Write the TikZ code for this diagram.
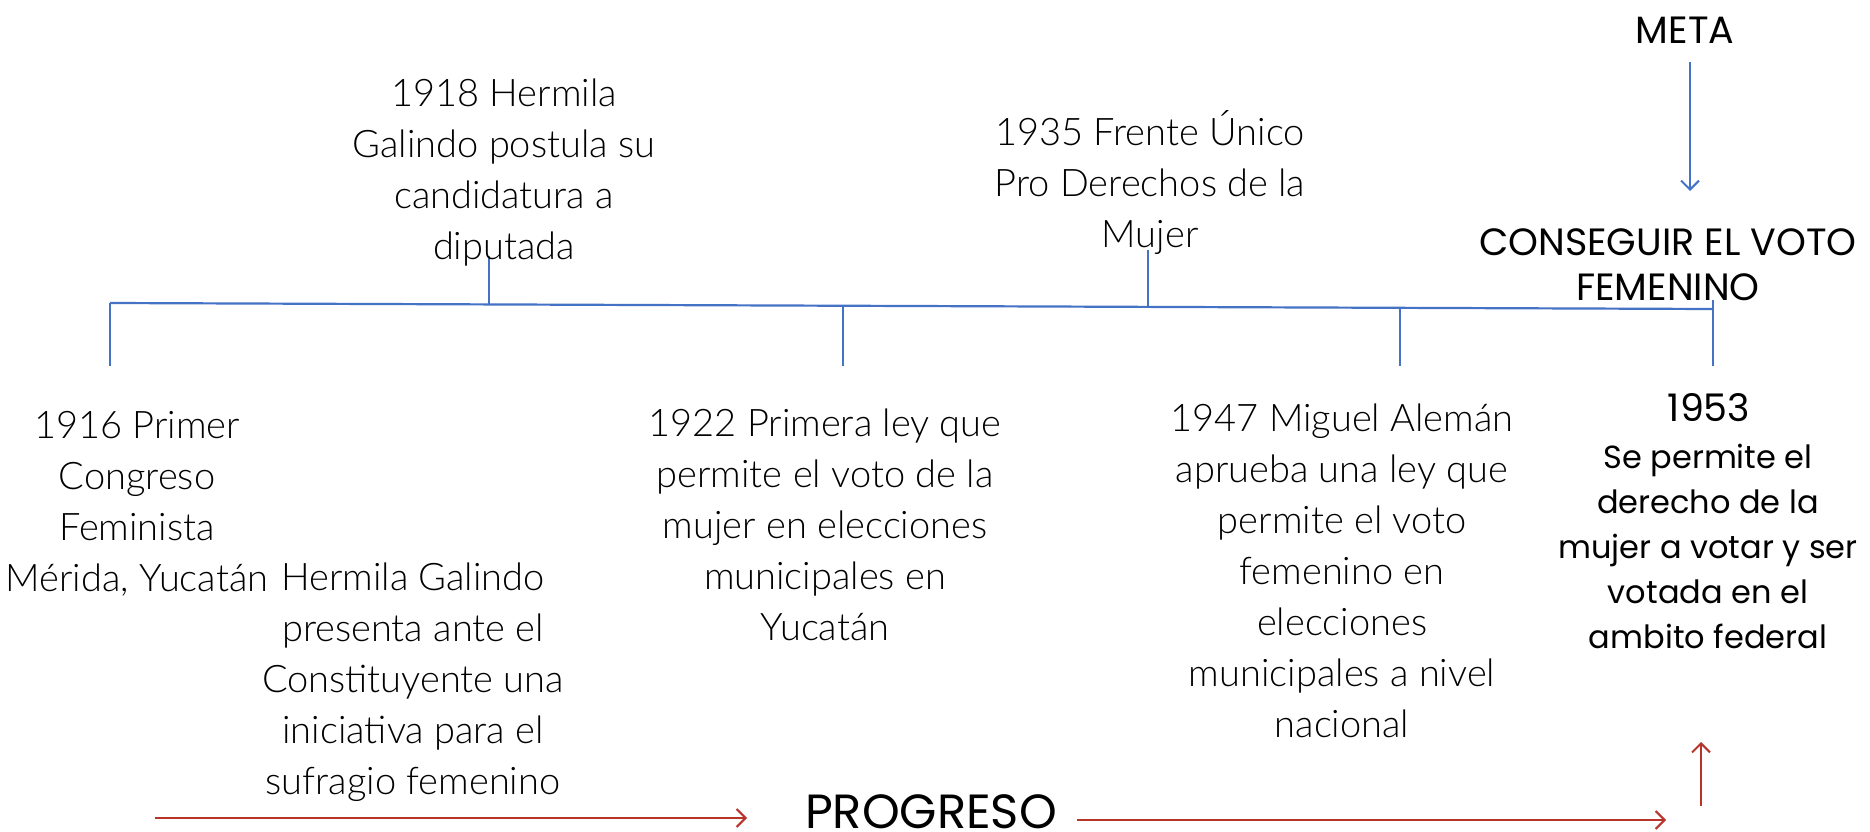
\documentclass[tikz,border=0pt]{standalone}
\usepackage{fontspec}
\setmainfont{Lato}
\newfontfamily\bodyfont{Lato Light}
\newfontfamily\headfont{Poppins}
\usetikzlibrary{arrows.meta}
\definecolor{tlblue}{HTML}{4472C4}
\definecolor{tlred}{HTML}{B8342A}
\tikzset{
  x=1pt,y=-1pt,
  tl/.style={draw=tlblue,line width=2.2pt},
  tick/.style={draw=tlblue,line width=1.6pt},
  body/.style={align=center,inner sep=0pt,font=\bodyfont\fontsize{38}{51}\selectfont},
  head/.style={align=center,inner sep=0pt,font=\headfont\fontsize{32}{45}\selectfont},
  bighead/.style={align=center,inner sep=0pt,font=\headfont\fontsize{38}{45}\selectfont},
  redarr/.style={draw=tlred,line width=2.4pt,-{Straight Barb[length=9pt,width=18pt,line width=2pt]}},
  bluearr/.style={draw=tlblue,line width=2pt,-{Straight Barb[length=9pt,width=18pt,line width=2pt]}},
}
\begin{document}
\begin{tikzpicture}
\useasboundingbox (0,0) rectangle (1870,832);
% timeline
\coordinate (L) at (110,303);
\coordinate (R) at (1713,309);
\draw[tl] (L) -- (R);
\coordinate (t1a) at (110,303); \coordinate (t1b) at (110,366);
\coordinate (t2a) at (489,305); \coordinate (t2b) at (489,256);
\coordinate (t3a) at (843,306); \coordinate (t3b) at (843,366);
\coordinate (t4a) at (1148,307); \coordinate (t4b) at (1148,250);
\coordinate (t5a) at (1400,308); \coordinate (t5b) at (1400,366);
\coordinate (t6a) at (1713,300); \coordinate (t6b) at (1713,366);
\draw[tick] (t1a) -- (t1b);
\draw[tick] (t2a) -- (t2b);
\draw[tick] (t3a) -- (t3b);
\draw[tick] (t4a) -- (t4b);
\draw[tick] (t5a) -- (t5b);
\draw[tick] (t6a) -- (t6b);
% texts
\node[body] (e1918) at (504,173) {1918 Hermila\\Galindo postula su\\candidatura a\\diputada};
\node[body] (e1935) at (1150,183) {1935 Frente Único\\Pro Derechos de la\\Mujer};
\node[body] (e1916) at (137,504) {1916 Primer\\Congreso\\Feminista\\Mérida, Yucatán};
\node[body] (eHG) at (413,682) {Hermila Galindo\\presenta ante el\\Constituyente una\\iniciativa para el\\sufragio femenino};
\node[body] (e1922) at (825,525) {1922 Primera ley que\\permite el voto de la\\mujer en elecciones\\municipales en\\Yucatán};
\node[body] (e1947) at (1342,571) {1947 Miguel Alemán\\aprueba una ley que\\permite el voto\\femenino en\\elecciones\\municipales a nivel\\nacional};
\node[bighead] (y1953) at (1709,408) {1953};
\node[head] (e1953) at (1708,546) {Se permite el\\derecho de la\\mujer a votar y ser\\votada en el\\ambito federal};
\node[bighead] (meta) at (1685,30) {META};
\node[bighead] (goal) at (1668,265) {CONSEGUIR EL VOTO\\FEMENINO};
\coordinate (m1) at (1690,62);
\coordinate (m2) at (1690,191);
\draw[bluearr] (m1) -- (m2);
% progreso
\node[inner sep=0pt,text depth=0pt,anchor=base,font=\headfont\fontsize{48}{52}\selectfont] (prog) at (931,828) {PROGRESO};
\coordinate (p1) at (155,818);
\coordinate (p2) at (747,818);
\coordinate (p3) at (1077,820);
\coordinate (p4) at (1666,820);
\draw[redarr] (p1) -- (p2);
\draw[redarr] (p3) -- (p4);
\coordinate (u1) at (1701,806);
\coordinate (u2) at (1701,742);
\draw[redarr] (u1) -- (u2);
\end{tikzpicture}
\end{document}
